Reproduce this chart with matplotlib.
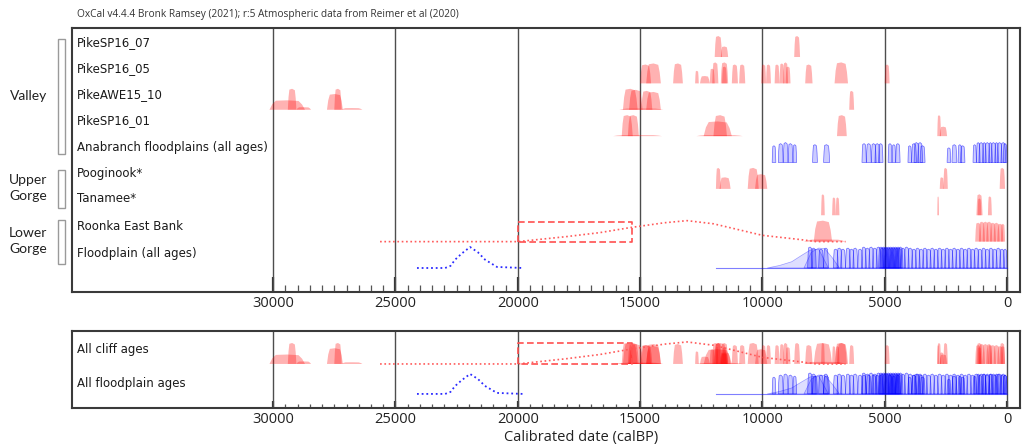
import matplotlib
matplotlib.use("Agg")
import matplotlib.pyplot as plt
from matplotlib.patches import Rectangle

# ---------------- data (calBP ranges: start, end, relative height) ----------------
row_labels = ["PikeSP16_07", "PikeSP16_05", "PikeAWE15_10", "PikeSP16_01",
              "Anabranch floodplains (all ages)", "Pooginook*", "Tanamee*",
              "Roonka East Bank", "Floodplain (all ages)"]
row_colors = ["red", "red", "red", "red", "blue", "red", "red", "red", "blue"]
bottom_labels = ["All cliff ages", "All floodplain ages"]

pike_sp16_07 = [(11950, 11650, 1.0), (11700, 11400, 0.5), (8700, 8460, 1.0)]
pike_sp16_05 = [(15000, 14550, 0.9), (14750, 14150, 0.95), (13650, 13250, 0.95),
                (12750, 12600, 0.6), (12550, 12150, 0.35), (12150, 11950, 0.7),
                (12050, 11800, 1.0), (11700, 11400, 1.0), (11650, 11450, 0.8),
                (11250, 11000, 0.9), (10950, 10700, 0.9), (10050, 9850, 0.9),
                (9850, 9650, 0.9), (9500, 9300, 0.9), (9300, 9100, 0.95),
                (9150, 8950, 1.0), (9050, 8850, 0.8), (8250, 7950, 0.9),
                (7050, 6500, 1.0), (5000, 4800, 0.9)]
pike_awe15_10 = [(30150, 28700, 0.45), (29400, 29050, 1.0), (29050, 28450, 0.12),
                 (27800, 27150, 0.75), (27500, 27200, 1.0), (27200, 26350, 0.08),
                 (15850, 14050, 0.06), (15700, 15100, 1.0), (15450, 14900, 0.95),
                 (14950, 14500, 0.9), (14750, 14150, 0.85), (6450, 6250, 0.9)]
pike_sp16_01 = [(16100, 14100, 0.05), (15750, 15300, 1.0), (15500, 15050, 1.0),
                (12700, 10800, 0.05), (12400, 11250, 0.7), (12000, 11450, 1.0),
                (6950, 6550, 1.0), (2850, 2700, 1.0), (2750, 2450, 0.45)]
anabranch = [(9600, 9450, 0.8), (9350, 9150, 0.9), (9150, 8950, 0.95), (8950, 8750, 0.9),
             (8750, 8600, 0.85), (7950, 7750, 0.85), (7500, 7250, 0.85),
             (5930, 5750, 0.9), (5750, 5550, 0.9), (5550, 5350, 0.9), (5400, 5200, 0.9),
             (5250, 5070, 0.9), (4860, 4700, 0.9), (4700, 4550, 0.85), (4550, 4370, 0.9),
             (4050, 3900, 0.8), (3900, 3700, 0.9), (3800, 3600, 0.95), (3650, 3450, 0.95),
             (3550, 3350, 0.8), (2450, 2300, 0.7), (2250, 2050, 0.85), (2000, 1850, 0.85),
             (1900, 1720, 0.8), (1390, 1250, 0.85), (1250, 1100, 0.95), (1150, 950, 0.95),
             (1000, 850, 0.95), (900, 700, 0.95), (750, 600, 0.95), (650, 450, 0.95),
             (500, 350, 0.95), (400, 200, 0.95), (250, 50, 0.95), (150, 0, 0.9)]
pooginook = [(11900, 11700, 1.0), (11750, 11300, 0.55), (10600, 10150, 1.0),
             (10300, 9800, 0.7), (2750, 2580, 0.55), (2600, 2420, 1.0), (300, 80, 1.0)]
tanamee = [(7600, 7450, 1.0), (7150, 7000, 0.85), (7000, 6850, 0.85), (2850, 2780, 0.9),
           (1250, 1000, 1.0), (1200, 1050, 0.8), (780, 620, 0.9)]
roonka = [(8300, 6600, 0.1), (7900, 7150, 1.0), (1300, 1050, 0.9), (1150, 900, 0.95),
          (1000, 750, 0.95), (850, 600, 0.95), (700, 450, 0.9), (550, 300, 0.9),
          (400, 150, 0.85), (250, 80, 0.85)]
floodplain = [(8150, 7950, 1.0), (8000, 7800, 0.95), (7700, 7500, 0.9), (7500, 7300, 0.95),
              (7100, 6900, 0.9), (6950, 6750, 0.95), (6800, 6600, 0.9), (6600, 6400, 0.95),
              (6450, 6250, 0.9), (6300, 6100, 0.95), (6100, 5900, 0.9), (5950, 5750, 1.0),
              (5800, 5600, 0.95), (5650, 5450, 1.0), (5500, 5300, 0.95), (5350, 5150, 1.0),
              (5250, 5050, 1.0), (5200, 5000, 0.95), (5150, 4950, 1.0), (5100, 4900, 0.95),
              (5050, 4850, 1.0), (5000, 4800, 0.95), (4950, 4750, 1.0), (4900, 4700, 0.95),
              (4850, 4650, 1.0), (4800, 4600, 0.95), (4750, 4550, 1.0), (4700, 4500, 0.95),
              (4650, 4450, 1.0), (4600, 4400, 0.95), (4550, 4350, 1.0), (4500, 4300, 0.95),
              (4450, 4250, 1.0), (4350, 4150, 0.95), (4200, 4000, 1.0), (4050, 3850, 0.95),
              (3900, 3700, 0.9), (3750, 3550, 0.95), (3600, 3400, 0.9), (3450, 3250, 0.95),
              (3300, 3100, 0.9), (3150, 2950, 0.95), (3000, 2800, 0.9), (2850, 2650, 0.95),
              (2700, 2500, 0.9), (2550, 2350, 0.95), (2400, 2200, 0.9), (2250, 2050, 0.95),
              (2100, 1900, 0.9), (1950, 1750, 0.95), (1800, 1600, 0.9), (1650, 1450, 0.95),
              (1500, 1300, 0.9), (1350, 1150, 0.95), (1200, 1000, 0.9), (1050, 850, 0.95),
              (900, 700, 0.9), (750, 550, 0.95), (600, 400, 0.9), (450, 250, 0.95),
              (300, 100, 0.9), (150, 0, 0.9)]
floodplain_base = (11900, 0)
# broad, slowly rising floodplain envelopes (x in calBP, relative heights)
flood_env1_x = [9800, 9300, 8800, 8400, 8050, 7700, 7300]
flood_env1_y = [0, 0.12, 0.3, 0.6, 0.85, 0.9, 0]
flood_env2_x = [8300, 8000, 7700, 7450, 7150, 6850]
flood_env2_y = [0, 0.75, 0.95, 0.92, 0.5, 0]

roonka_curve_x = [25630, 20000, 18000, 16640, 15400, 14000, 13080, 12000, 11450, 10000, 8460, 7800, 6600]
roonka_curve_y = [0, 0, 0.24, 0.43, 0.67, 0.9, 1.0, 0.85, 0.7, 0.3, 0.1, 0, 0]
roonka_box = (20000, 15330, 0.95)
flood_curve_x = [24120, 22970, 22750, 22560, 22280, 21950, 21630, 21340, 20850, 19790]
flood_curve_y = [0, 0, 0.1, 0.4, 0.7, 1.0, 0.75, 0.4, 0.05, 0]

rows = [pike_sp16_07, pike_sp16_05, pike_awe15_10, pike_sp16_01, anabranch,
        pooginook, tanamee, roonka, floodplain]

groups = [("Valley", 39, 154), ("Upper\nGorge", 170, 208), ("Lower\nGorge", 220, 264)]
major_ticks = [30000, 25000, 20000, 15000, 10000, 5000, 0]

# ---------------- figure ----------------
W, H = 1022, 445
fig = plt.figure(figsize=(W / 100, H / 100), dpi=100)


def fx(px):
    return px / W


def fy(py):
    return 1 - py / H


ax1 = fig.add_axes([fx(72), fy(292), fx(1020) - fx(72), fy(28) - fy(292)])
ax2 = fig.add_axes([fx(72), fy(408), fx(1020) - fx(72), fy(331) - fy(408)])

XL = (38223, -531)
RED_FC = (1, 0, 0, 0.30)
BLUE_FC = (0, 0, 1, 0.2)
BLUE_EC = (0, 0, 1, 0.55)
SHAPE_X = [0, 0.08, 0.18, 0.5, 0.82, 0.92, 1]
SHAPE_Y = [0, 0.6, 0.96, 1.0, 0.93, 0.55, 0]


def draw_peaks(ax, base, peaks, color, scale):
    for a, b, h in peaks:
        w = b - a
        xs = [a + f * w for f in SHAPE_X]
        yy = [base - f * h * scale for f in SHAPE_Y]
        if color == "red":
            ax.fill(xs, yy, facecolor=RED_FC, edgecolor="none", zorder=3)
        else:
            ax.fill(xs, yy, facecolor=BLUE_FC, edgecolor=BLUE_EC, lw=0.5, zorder=3)


def draw_roonka_extras(ax, base, scale):
    ax.plot(roonka_curve_x, [base - y * scale for y in roonka_curve_y],
            ls=(0, (1, 1.6)), color="#ff5a5a", lw=1.2, zorder=4)
    x0, x1, h = roonka_box
    ax.plot([x0, x0, x1, x1, x0], [base, base - h * scale, base - h * scale, base, base],
            ls=(0, (4, 2)), color="#ff5050", lw=1.2, zorder=4)


def draw_flood_extras(ax, base, scale):
    ax.plot(flood_curve_x, [base - y * scale for y in flood_curve_y],
            ls=(0, (1, 1.6)), color="#2b2bff", lw=1.3, zorder=4)
    ax.plot(list(floodplain_base), [base, base], color=(0, 0, 1, 0.5), lw=0.8, zorder=3)
    for ex, ey in ((flood_env1_x, flood_env1_y), (flood_env2_x, flood_env2_y)):
        ax.fill(ex, [base - y * scale for y in ey], facecolor=(0, 0, 1, 0.13),
                edgecolor=(0, 0, 1, 0.35), lw=0.5, zorder=3)


def style_axis(ax, major_len, minor_len):
    ax.set_xlim(*XL)
    for x in major_ticks:
        ax.axvline(x, color="#4d4d4d", lw=1.0, zorder=2)
    ax.set_xticks(major_ticks)
    ax.set_xticklabels([str(t) for t in major_ticks], fontfamily="Open Sans", fontsize=10.5)
    ax.set_xticks(list(range(0, 30001, 500)), minor=True)
    ax.tick_params(axis="x", which="major", direction="in", length=major_len, width=1.6,
                   color="#333333", pad=3, labelcolor="#222222")
    ax.tick_params(axis="x", which="minor", direction="in", length=minor_len, width=0.9,
                   color="#555555")
    ax.set_yticks([])
    for s in ax.spines.values():
        s.set_linewidth(1.5)
        s.set_color("#3a3a3a")


# top panel
TS = 21 / 26.4
ax1.set_ylim(8.91, -1.10)
for k, (peaks, col) in enumerate(zip(rows, row_colors)):
    draw_peaks(ax1, k, peaks, col, TS)
draw_roonka_extras(ax1, 7, TS)
draw_flood_extras(ax1, 8, TS)
style_axis(ax1, 11, 5)

# bottom panel
BS = 21 / 30
ax2.set_ylim(1.47, -1.10)
for peaks, col in zip(rows, row_colors):
    draw_peaks(ax2, 0 if col == "red" else 1, peaks, col, BS)
draw_roonka_extras(ax2, 0, BS * 1.05)
draw_flood_extras(ax2, 1, BS * 0.95)
style_axis(ax2, 5, 3)

# labels
label_y = [43, 69, 95, 121, 147, 174, 199, 226, 254]
for lab, y in zip(row_labels, label_y):
    fig.text(fx(77), fy(y), lab, fontsize=8.5, family="DejaVu Sans", color="#1a1a1a",
             va="center", ha="left")
for lab, y in zip(bottom_labels, [349, 383]):
    fig.text(fx(77), fy(y), lab, fontsize=8.5, family="DejaVu Sans", color="#1a1a1a",
             va="center", ha="left")

for name, y0, y1 in groups:
    fig.add_artist(Rectangle((fx(58), fy(y1)), fx(7), fy(y0) - fy(y1), transform=fig.transFigure,
                             facecolor="white", edgecolor="#9a9a9a", lw=1.0))
    fig.text(fx(47), fy((y0 + y1) / 2 - 1), name, fontsize=10, family="Lato", color="#222222",
             ha="right", va="center", linespacing=1.45)

fig.text(fx(77), fy(14), "OxCal v4.4.4 Bronk Ramsey (2021); r:5 Atmospheric data from Reimer et al (2020)",
         fontsize=7.3, family="Open Sans", color="#333333", va="center", ha="left")
fig.text(fx(581), fy(437), "Calibrated date (calBP)", fontsize=10.5, family="Open Sans",
         color="#222222", ha="center", va="center")

fig.savefig("out.png", dpi=100, facecolor="white")
